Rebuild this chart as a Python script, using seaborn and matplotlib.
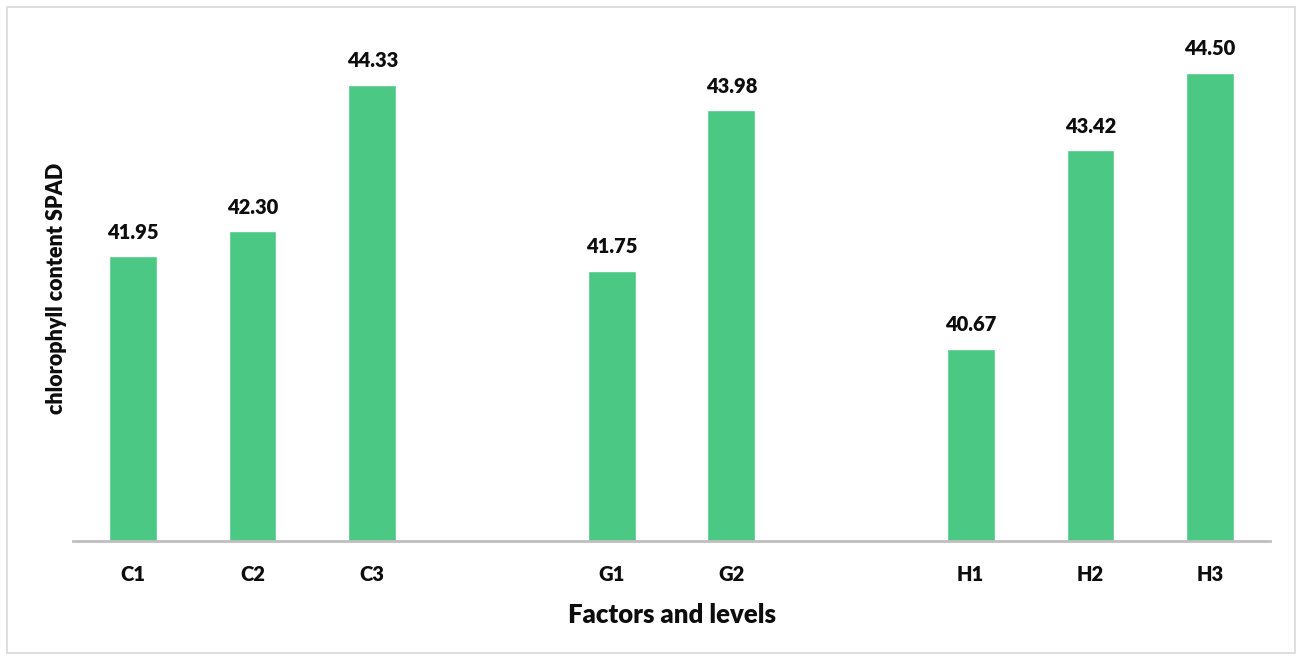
import matplotlib
matplotlib.use("Agg")
import matplotlib.pyplot as plt
import seaborn as sns
import pandas as pd
import numpy as np
from matplotlib.patches import Rectangle

categories = ["C1", "C2", "C3", "", "G1", "G2", " ", "H1", "H2", "H3"]
values = [41.95, 42.30, 44.33, np.nan, 41.75, 43.98, np.nan, 40.67, 43.42, 44.50]
labels = ["41.95", "42.30", "44.33", "", "41.75", "43.98", "", "40.67", "43.42", "44.50"]

sns.set_style("white")
plt.rcParams['font.family'] = ['Lato', 'DejaVu Sans']

df = pd.DataFrame({"cat": categories, "val": values})

fig = plt.figure(figsize=(12.98, 6.58), dpi=100)
ax = fig.add_axes([73/1298, 1-541/658, (1270-73)/1298, (541-36.6)/658])

sns.barplot(data=df, x="cat", y="val", color="#4CC885", saturation=1, width=0.4, ax=ax, order=categories)

ax.set_ylim(38, 45)
ax.set_xlim(-0.5, 9.5)
W = "heavy"
for i, (v, l) in enumerate(zip(values, labels)):
    if l:
        ax.text(i, v + 0.2, l, ha="center", va="bottom", fontsize=14.5, fontweight=W, color="#0D0D0D")

ax.set_yticks([])
ax.tick_params(axis="x", length=0, pad=17, labelsize=14.5, labelcolor="#0D0D0D")
for t in ax.get_xticklabels():
    t.set_fontweight(W)
for s in ["top", "right", "left"]:
    ax.spines[s].set_visible(False)
ax.spines["bottom"].set_color("#BFBFBF")
ax.spines["bottom"].set_linewidth(2)
ax.set_xlabel("Factors and levels", fontsize=18.5, fontweight=W, labelpad=14, color="#0D0D0D")
ax.set_ylabel("chlorophyll content SPAD", fontsize=15.5, fontweight=W, labelpad=4, color="#0D0D0D")

fig.patches.append(Rectangle((7/1298, 5/658), (1295-7)/1298, (653-7)/658, transform=fig.transFigure,
                             fill=False, edgecolor="#D9D9D9", linewidth=1.2))

fig.savefig("out.png", dpi=100)
